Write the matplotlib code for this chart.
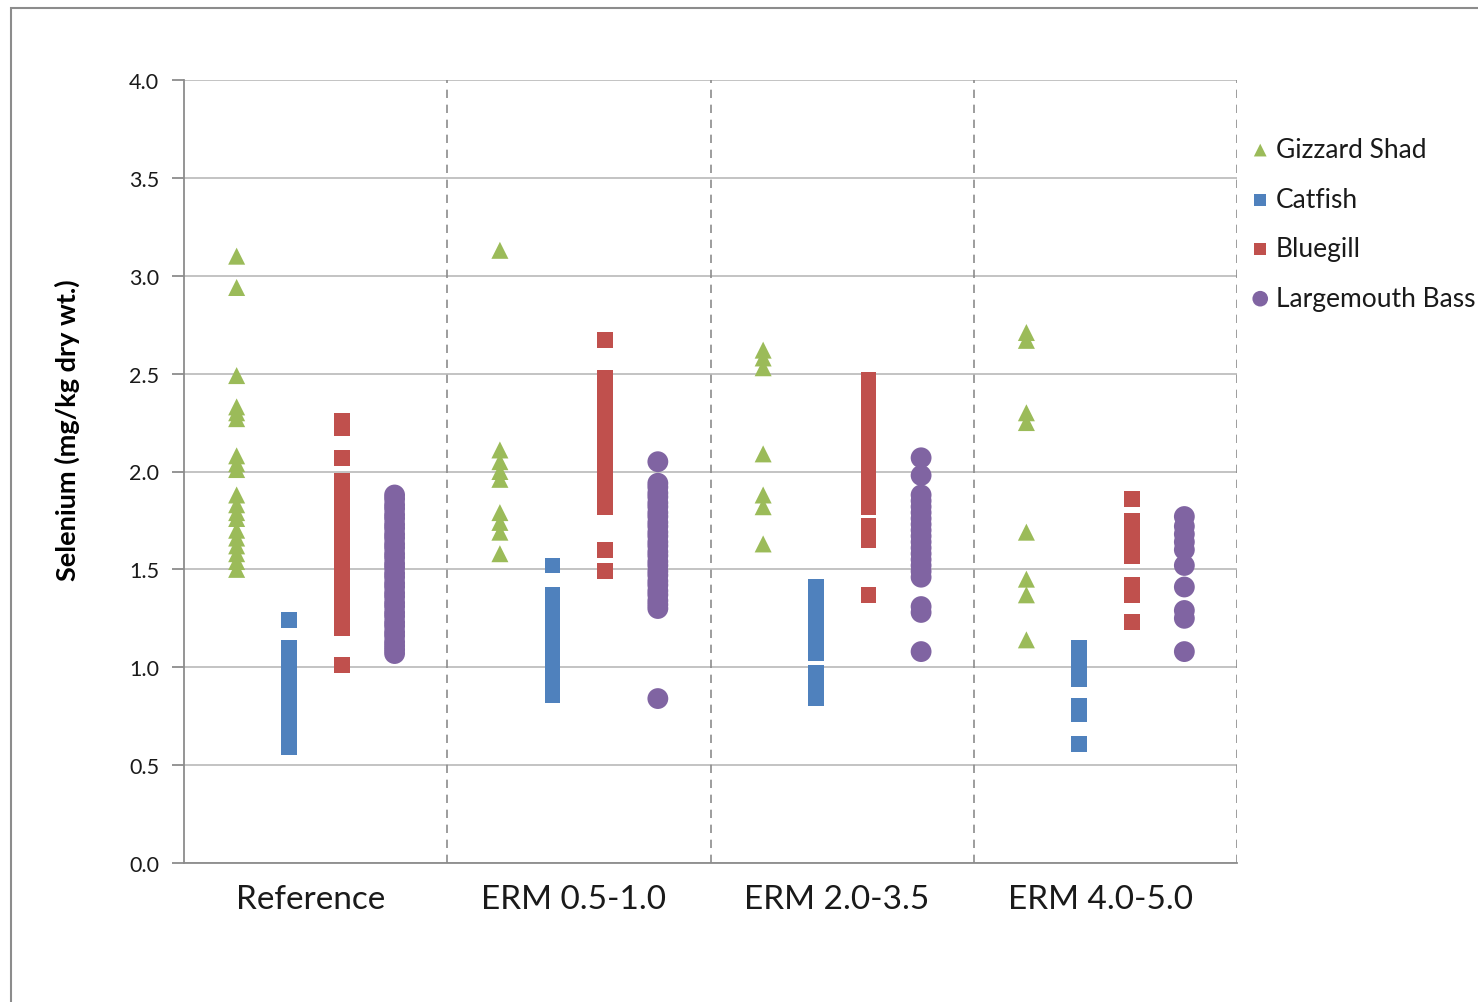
import matplotlib
matplotlib.use("Agg")
import matplotlib.pyplot as plt
from matplotlib.patches import Rectangle
from matplotlib.ticker import FormatStrFormatter

# Sampling sites and species
groups = ["Reference", "ERM 0.5-1.0", "ERM 2.0-3.5", "ERM 4.0-5.0"]
species = ["Gizzard Shad", "Catfish", "Bluegill", "Largemouth Bass"]

# Selenium concentrations (mg/kg dry wt.), one list per site
gizzard_shad = [
    [3.10, 2.94, 2.49, 2.33, 2.30, 2.27, 2.08, 2.04, 2.01, 1.88, 1.83, 1.79,
     1.76, 1.70, 1.66, 1.62, 1.58, 1.54, 1.50],
    [3.13, 2.11, 2.05, 2.00, 1.96, 1.79, 1.74, 1.69, 1.58],
    [2.62, 2.58, 2.53, 2.09, 1.88, 1.82, 1.63],
    [2.71, 2.67, 2.30, 2.25, 1.69, 1.45, 1.37, 1.14],
]
catfish = [
    [1.24, 1.10, 1.08, 1.06, 1.04, 1.02, 1.00, 0.98, 0.96, 0.94, 0.92, 0.90,
     0.88, 0.86, 0.84, 0.82, 0.80, 0.78, 0.76, 0.74, 0.72, 0.70, 0.68, 0.66,
     0.64, 0.62, 0.60, 0.59],
    [1.52, 1.37, 1.35, 1.33, 1.31, 1.28, 1.26, 1.24, 1.21, 1.19, 1.17, 1.15,
     1.12, 1.10, 1.08, 1.05, 1.03, 1.01, 0.99, 0.97, 0.95, 0.93, 0.91, 0.89,
     0.87, 0.86],
    [1.41, 1.39, 1.37, 1.35, 1.32, 1.30, 1.28, 1.26, 1.24, 1.22, 1.20, 1.18,
     1.16, 1.14, 1.12, 1.10, 1.08, 1.07, 0.97, 0.93, 0.89, 0.84],
    [1.10, 1.06, 1.01, 0.97, 0.94, 0.80, 0.76, 0.61],
]
bluegill = [
    [2.26, 2.22, 2.07, 1.95, 1.93, 1.91, 1.89, 1.86, 1.84, 1.82, 1.80, 1.77,
     1.75, 1.73, 1.71, 1.68, 1.66, 1.64, 1.62, 1.59, 1.57, 1.55, 1.53, 1.50,
     1.48, 1.46, 1.44, 1.41, 1.39, 1.37, 1.35, 1.32, 1.30, 1.28, 1.26, 1.23,
     1.21, 1.20, 1.01],
    [2.67, 2.48, 2.46, 2.43, 2.41, 2.38, 2.36, 2.33, 2.31, 2.28, 2.26, 2.23,
     2.21, 2.18, 2.16, 2.13, 2.11, 2.08, 2.06, 2.03, 2.01, 1.98, 1.96, 1.93,
     1.91, 1.88, 1.86, 1.84, 1.82, 1.60, 1.49],
    [2.47, 2.45, 2.42, 2.40, 2.37, 2.35, 2.32, 2.30, 2.27, 2.25, 2.22, 2.20,
     2.17, 2.15, 2.12, 2.10, 2.07, 2.05, 2.02, 2.00, 1.97, 1.95, 1.92, 1.90,
     1.87, 1.85, 1.82, 1.72, 1.65, 1.37],
    [1.86, 1.75, 1.71, 1.67, 1.63, 1.60, 1.57, 1.42, 1.37, 1.23],
]
largemouth_bass = [
    [1.88, 1.86, 1.83, 1.81, 1.78, 1.76, 1.73, 1.71, 1.68, 1.66, 1.63, 1.61,
     1.58, 1.56, 1.53, 1.51, 1.48, 1.46, 1.43, 1.41, 1.38, 1.36, 1.33, 1.31,
     1.28, 1.26, 1.23, 1.21, 1.18, 1.16, 1.13, 1.11, 1.09, 1.07],
    [2.05, 1.94, 1.92, 1.89, 1.87, 1.84, 1.82, 1.79, 1.77, 1.74, 1.72, 1.69,
     1.67, 1.64, 1.62, 1.59, 1.57, 1.54, 1.52, 1.49, 1.47, 1.44, 1.42, 1.39,
     1.37, 1.34, 1.32, 1.30, 0.84],
    [2.07, 1.98, 1.88, 1.85, 1.82, 1.79, 1.76, 1.73, 1.70, 1.67, 1.64, 1.61,
     1.58, 1.55, 1.52, 1.49, 1.46, 1.31, 1.28, 1.08],
    [1.77, 1.72, 1.68, 1.64, 1.60, 1.52, 1.41, 1.29, 1.25, 1.08],
]

series = [gizzard_shad, catfish, bluegill, largemouth_bass]
colors = ["#9BBB59", "#4F81BD", "#C0504D", "#8064A2"]
markers = ["^", "s", "s", "o"]
sizes = [150, 130, 130, 225]

plt.rcParams["font.family"] = ["Lato", "DejaVu Sans"]

W, H = 1478, 1003
fig = plt.figure(figsize=(W / 100, H / 100), dpi=100)
fig.patch.set_facecolor("white")

# outer chart frame
fig.add_artist(Rectangle((10.5 / W, -0.05), 1.1, 1 - 8.5 / H + 0.05,
                         transform=fig.transFigure, fill=False,
                         edgecolor="#8C8C8C", linewidth=1.5))

ax = fig.add_axes([184 / W, 1 - 864 / H, (1237 - 184) / W, (864 - 81) / H])

for k, (name, data) in enumerate(zip(species, series)):
    for g, vals in enumerate(data):
        xs = [g + 0.2 * (k + 1)] * len(vals)
        ax.scatter(xs, vals, marker=markers[k], s=sizes[k], color=colors[k],
                   edgecolors="none", zorder=3,
                   label=name if g == 0 else None)

ax.set_xlim(0, 4)
ax.set_ylim(0, 4)
ax.set_yticks([i * 0.5 for i in range(9)])
ax.yaxis.set_major_formatter(FormatStrFormatter("%.1f"))
ax.grid(axis="y", color="#BEBEBE", linewidth=1.3, zorder=0)
ax.set_axisbelow(True)

ax.set_xticks([0, 1, 2, 3, 4])
ax.set_xticklabels([])
ax.set_xticks([g + 0.48 for g in range(4)], minor=True)
ax.set_xticklabels(groups, minor=True, fontsize=24, color="#1a1a1a")
ax.tick_params(axis="x", which="both", length=0)
ax.tick_params(axis="x", which="minor", pad=15)
ax.tick_params(axis="y", length=9, width=1.3, color="#8C8C8C",
               labelsize=15.5, pad=9, labelcolor="#1a1a1a")

for xv in [1, 2, 3, 4]:
    ax.axvline(xv, color="#8C8C8C", linewidth=1.2, linestyle=(0, (5, 4)),
               zorder=1)

for side in ["top", "right"]:
    ax.spines[side].set_visible(False)
for side in ["left", "bottom"]:
    ax.spines[side].set_color("#8C8C8C")
    ax.spines[side].set_linewidth(1.3)

fig.text(67 / W, 1 - 430 / H, "Selenium (mg/kg dry wt.)", rotation=90,
         ha="center", va="center", fontsize=19.5, fontweight="bold",
         color="#000000")

leg = ax.legend(loc="upper left", bbox_to_anchor=(1251 / W, 1 - 138 / H),
                bbox_transform=fig.transFigure, frameon=False, fontsize=19,
                markerscale=0.75, handlelength=0.7, handletextpad=0.25,
                labelspacing=0.93, borderaxespad=0, borderpad=0)
for t in leg.get_texts():
    t.set_color("#1a1a1a")

fig.savefig("out.png", dpi=100, facecolor="white")
